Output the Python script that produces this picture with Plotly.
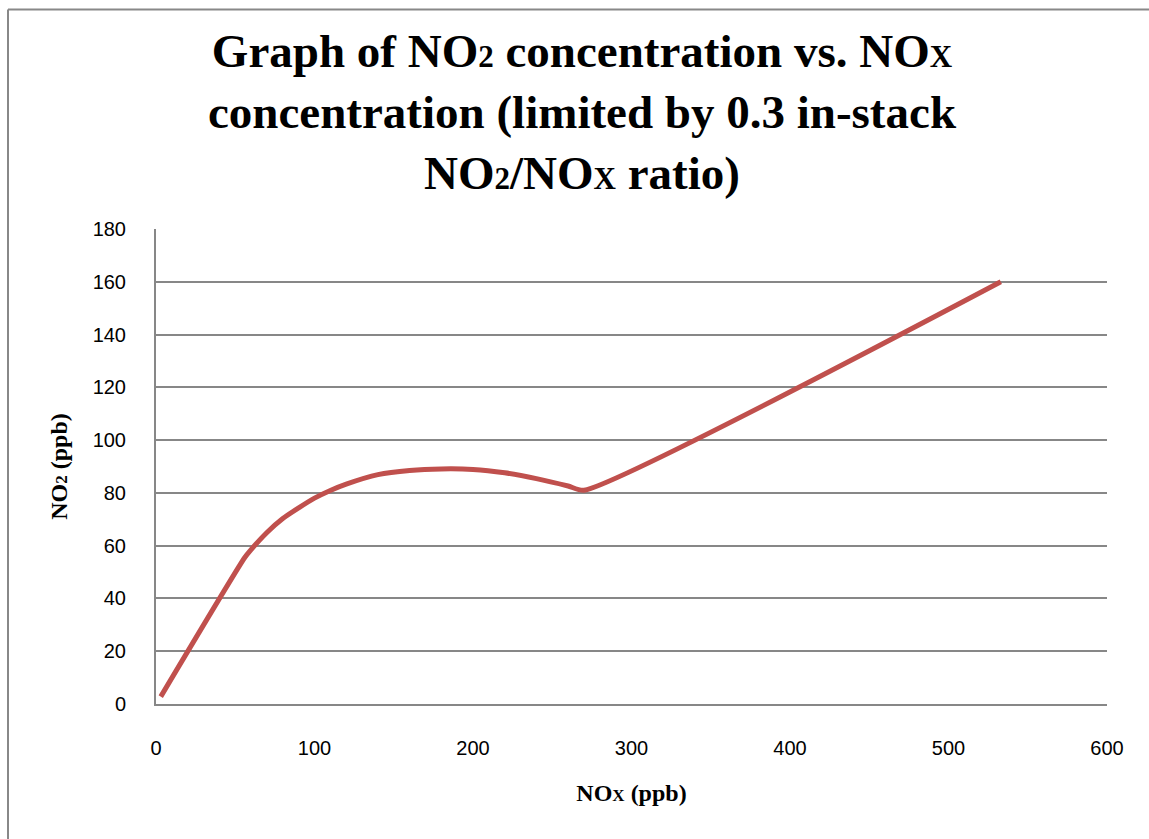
import plotly.graph_objects as go

nox = [3, 56, 60, 70, 80, 90, 100, 110, 120, 140, 160, 180, 200, 220, 240, 260, 270, 533]
no2 = [2.8, 55.5, 58.5, 65.0, 70.3, 74.3, 78.0, 80.9, 83.3, 86.9, 88.5, 89.1, 88.9, 87.6, 85.4, 82.6, 81.0, 160.0]

x_ticks = [0, 100, 200, 300, 400, 500, 600]
y_ticks = [0, 20, 40, 60, 80, 100, 120, 140, 160, 180]

W, H = 1149, 839
L, R, T, B = 156, 42, 229, 135
pw, ph = W - L - R, H - T - B

def px2paper_x(px):
    return (px - L) / pw

def py2paper_y(py):
    return (H - B - py) / ph

def seg(text, size):
    return ('<span style="font-family:Liberation Serif;font-weight:bold;font-size:%dpx">%s</span>'
            % (size, text))

TS, TSS = 47, 31
title_text = (seg("Graph of NO", TS) + seg("2", TSS) + seg(" concentration vs. NO", TS) + seg("X", TSS) +
              "<br>" + seg("concentration (limited by 0.3 in-stack", TS) +
              "<br>" + seg("NO", TS) + seg("2", TSS) + seg("/NO", TS) + seg("X", TSS) + seg(" ratio)", TS))

AS, ASS = 24, 17
xtitle = seg("NO", AS) + seg("X", ASS) + seg(" (ppb)", AS)
ytitle = seg("NO", AS) + seg("2", ASS) + seg(" (ppb)", AS)

fig = go.Figure()
fig.add_trace(go.Scatter(x=nox, y=no2, mode="lines",
                         line=dict(color="#C0504D", width=5, shape="spline", smoothing=0.6),
                         showlegend=False, hoverinfo="skip"))

grid = "#878787"
fig.update_layout(
    width=W, height=H,
    margin=dict(l=L, r=R, t=T, b=B, autoexpand=False),
    paper_bgcolor="white", plot_bgcolor="white",
    title=dict(text=title_text, x=582 / W, xanchor="center", xref="container",
               y=1 - 67 / H, yanchor="top", yref="container",
               font=dict(family="Liberation Serif", size=TS, color="black", weight="bold")),
    xaxis=dict(range=[0, 600], tickvals=x_ticks, ticktext=[str(v) for v in x_ticks],
               showgrid=False, zeroline=False, showline=True, linecolor=grid, linewidth=2,
               ticks="", ticklabelstandoff=25,
               tickfont=dict(family="Liberation Sans", size=20, color="black"),
               title=dict(text=xtitle, standoff=26,
                          font=dict(family="Liberation Serif", size=AS, color="black", weight="bold"))),
    yaxis=dict(range=[0, 180], tickvals=y_ticks, ticktext=[str(v) for v in y_ticks],
               showgrid=True, gridcolor=grid, gridwidth=1.5, zeroline=False,
               showline=True, linecolor=grid, linewidth=2, ticks="", ticklabelstandoff=24,
               tickfont=dict(family="Liberation Sans", size=20, color="black"),
               title=dict(text=ytitle, standoff=18,
                          font=dict(family="Liberation Serif", size=AS, color="black", weight="bold"))),
)

# outer chart border (left and top edges visible)
bx, by = px2paper_x(8), py2paper_y(9.5)
fig.add_shape(type="line", xref="paper", yref="paper", x0=bx, x1=bx, y0=py2paper_y(H + 5), y1=by,
              line=dict(color="#888888", width=2))
fig.add_shape(type="line", xref="paper", yref="paper", x0=bx, x1=px2paper_x(W + 5), y0=by, y1=by,
              line=dict(color="#888888", width=2))

fig.write_html("out.html")
